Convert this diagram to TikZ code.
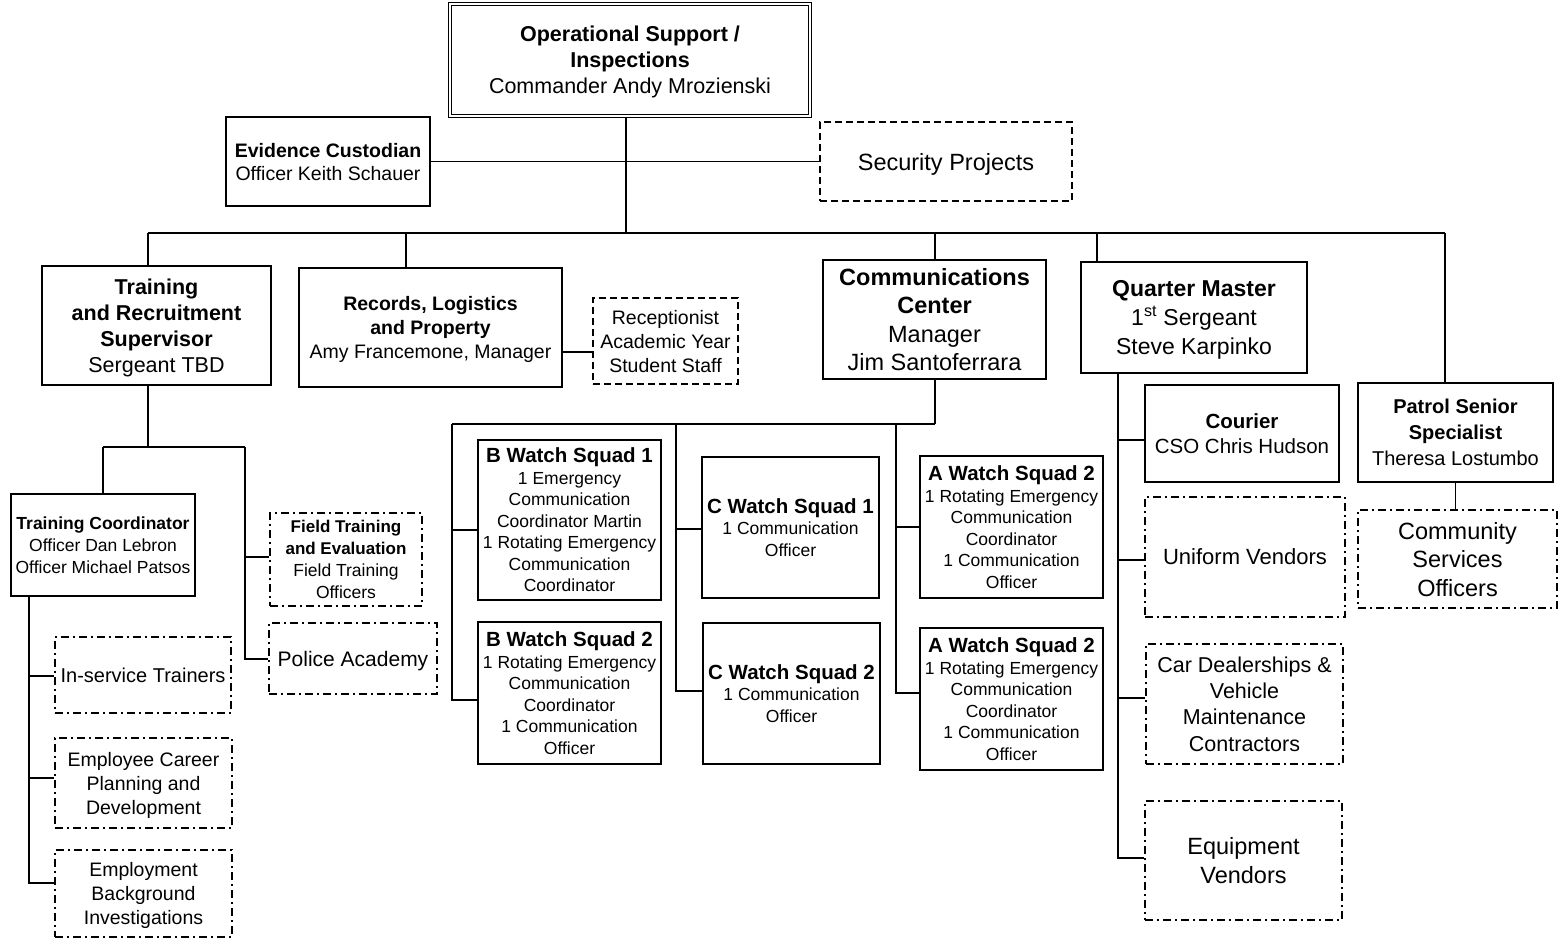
\documentclass[tikz,border=0pt]{standalone}
\usepackage{fontspec}
\setmainfont{Liberation Sans}
\newcommand\fsz[2]{\fontsize{#1}{#2}\selectfont}
\tikzset{
  box/.style={draw, line width=1.8pt, inner sep=0pt, align=center, anchor=center, text depth=0pt},
  topbox/.style={draw, double, double distance=2.2pt, line width=1.1pt, inner sep=0pt, align=center, text depth=0pt},
  dashbox/.style={box, line width=1.5pt, dash pattern=on 7pt off 4pt},
  ddbox/.style={box, line width=1.5pt, dash pattern=on 8pt off 4pt on 2pt off 4pt},
  conn/.style={line width=1.6pt},
}
\newcommand\sqh[1]{{\fsz{20.5}{23}\bfseries #1}}
\begin{document}
\begin{tikzpicture}[x=1pt,y=-1pt]
\useasboundingbox (0,0) rectangle (1565,941);
\fill[white] (0,0) rectangle (1565,941);

% ---- top level
\node[topbox, minimum width=360pt, minimum height=112pt, font=\fsz{21.5}{26}] (top) at (630,60)
  {\textbf{Operational Support /}\\\textbf{Inspections}\\Commander Andy Mrozienski};
\node[box, minimum width=204pt, minimum height=89pt, font=\fsz{19.5}{23}] (ev) at (328,161.5)
  {\textbf{Evidence Custodian}\\Officer Keith Schauer};
\node[dashbox, minimum width=252pt, minimum height=79pt, font=\fsz{23.5}{28}] (sec) at (946,161.5)
  {Security Projects};

% ---- second level
\node[box, minimum width=229pt, minimum height=119pt, font=\fsz{21.5}{26}] (train) at (156.5,325.5)
  {\textbf{Training}\\\textbf{and Recruitment}\\\textbf{Supervisor}\\Sergeant TBD};
\node[box, minimum width=263pt, minimum height=119pt, font=\fsz{19.5}{24}] (rec) at (430.5,327.5)
  {\textbf{Records, Logistics}\\\textbf{and Property}\\Amy Francemone, Manager};
\node[dashbox, minimum width=145pt, minimum height=86pt, font=\fsz{19.5}{24}] (recp) at (665.5,341)
  {Receptionist\\Academic Year\\Student Staff};
\node[box, minimum width=223pt, minimum height=119pt, font=\fsz{23.5}{28.5}] (comms) at (934.5,319.5)
  {\textbf{Communications}\\\textbf{Center}\\Manager\\Jim Santoferrara};
\node[box, minimum width=226pt, minimum height=111pt, font=\fsz{23}{29}] (qm) at (1194,317.5)
  {\textbf{Quarter Master}\\1\textsuperscript{st} Sergeant\\Steve Karpinko};
\node[box, minimum width=195pt, minimum height=99pt, font=\fsz{20}{26}] (pat) at (1455.5,432.5)
  {\textbf{Patrol Senior}\\\textbf{Specialist}\\Theresa Lostumbo};
\node[ddbox, minimum width=199pt, minimum height=98pt, font=\fsz{23.5}{28.5}] (cso) at (1457.5,559)
  {Community\\Services\\Officers};

% ---- training branch
\node[box, minimum width=184pt, minimum height=102pt, font=\fsz{17.5}{22}] (tc) at (103,545)
  {\textbf{Training Coordinator}\\Officer Dan Lebron\\Officer Michael Patsos};
\node[ddbox, minimum width=152pt, minimum height=93pt, font=\fsz{17.5}{22}] (ft) at (346,559.5)
  {{\fsz{17}{22}\bfseries Field Training}\\{\fsz{17}{22}\bfseries and Evaluation}\\Field Training\\Officers};
\node[ddbox, minimum width=168pt, minimum height=71pt, font=\fsz{21}{25}] (pa) at (353,658.5)
  {Police Academy};
\node[ddbox, minimum width=176pt, minimum height=76pt, font=\fsz{20}{24}] (ist) at (143,675)
  {In-service Trainers};
\node[ddbox, minimum width=177pt, minimum height=90pt, font=\fsz{19.5}{24}] (ec) at (143.5,783)
  {Employee Career\\Planning and\\Development};
\node[ddbox, minimum width=177pt, minimum height=87pt, font=\fsz{19.5}{24}] (eb) at (143.5,893.5)
  {Employment\\Background\\Investigations};

% ---- communications branch
\node[box, minimum width=183pt, minimum height=160pt, font=\fsz{17.5}{21.5}] (bw1) at (569.5,520)
  {\sqh{B Watch Squad 1}\\1 Emergency\\Communication\\Coordinator Martin\\1 Rotating Emergency\\Communication\\Coordinator};
\node[box, minimum width=183pt, minimum height=142pt, font=\fsz{17.5}{21.5}] (bw2) at (569.5,693)
  {\sqh{B Watch Squad 2}\\1 Rotating Emergency\\Communication\\Coordinator\\1 Communication\\Officer};
\node[box, minimum width=177pt, minimum height=141pt, font=\fsz{17.5}{21.5}] (cw1) at (790.5,527.5)
  {\sqh{C Watch Squad 1}\\1 Communication\\Officer};
\node[box, minimum width=177pt, minimum height=141pt, font=\fsz{17.5}{21.5}] (cw2) at (791.5,693.5)
  {\sqh{C Watch Squad 2}\\1 Communication\\Officer};
\node[box, minimum width=183pt, minimum height=142pt, font=\fsz{17.5}{21.5}] (aw1) at (1011.5,527)
  {\sqh{A Watch Squad 2}\\1 Rotating Emergency\\Communication\\Coordinator\\1 Communication\\Officer};
\node[box, minimum width=183pt, minimum height=142pt, font=\fsz{17.5}{21.5}] (aw2) at (1011.5,699)
  {\sqh{A Watch Squad 2}\\1 Rotating Emergency\\Communication\\Coordinator\\1 Communication\\Officer};

% ---- quarter master branch
\node[box, minimum width=194pt, minimum height=97pt, font=\fsz{20.5}{25}] (cour) at (1242,433.5)
  {\textbf{Courier}\\CSO Chris Hudson};
\node[ddbox, minimum width=200pt, minimum height=120pt, font=\fsz{22}{26}] (uv) at (1245,557)
  {Uniform Vendors};
\node[ddbox, minimum width=197pt, minimum height=120pt, font=\fsz{21.5}{26.3}] (car) at (1244.5,704)
  {Car Dealerships \&\\Vehicle\\Maintenance\\Contractors};
\node[ddbox, minimum width=197pt, minimum height=119pt, font=\fsz{23.5}{29}] (eq) at (1243.5,860.5)
  {Equipment\\Vendors};

% ---- connectors
\coordinate (jt) at (626,233);
\draw[conn] (top.south -| jt) -- (jt);
\draw[conn] (ev.east) -- (sec.west);
\coordinate (bl) at (148,233);
\coordinate (br) at (1445,233);
\draw[conn] (bl) -- (br);
\draw[conn] (bl) -- (bl |- train.north);
\coordinate (jr) at (406,233);
\draw[conn] (jr) -- (jr |- rec.north);
\coordinate (jc) at (935,233);
\draw[conn] (jc) -- (jc |- comms.north);
\coordinate (jq) at (1097,233);
\draw[conn] (jq) -- (jq |- qm.north);
\draw[conn] (br) -- (br |- pat.north);

\coordinate (rr) at (562,352);
\draw[conn] (rec.east |- rr) -- (recp.west |- rr);

% training
\coordinate (t1) at (148,447);
\coordinate (t2) at (103,447);
\coordinate (t3) at (245,447);
\coordinate (t4) at (245,659);
\coordinate (t5) at (245,557);
\draw[conn] (train.south -| t1) -- (t1);
\draw[conn] (t2) -- (t3);
\draw[conn] (t2) -- (tc.north -| t2);
\draw[conn] (t3) -- (t4) -- (pa.west |- t4);
\draw[conn] (t5) -- (ft.west |- t5);

\coordinate (c1) at (29,883);
\coordinate (c2) at (29,676);
\coordinate (c3) at (29,778);
\draw[conn] (tc.south -| c1) -- (c1) -- (eb.west |- c1);
\draw[conn] (c2) -- (ist.west |- c2);
\draw[conn] (c3) -- (ec.west |- c3);

% communications
\coordinate (m0) at (935,424);
\coordinate (mb) at (452,424);
\coordinate (mb1) at (452,530);
\coordinate (mb2) at (452,700);
\coordinate (mc) at (676,424);
\coordinate (mc1) at (676,529);
\coordinate (mc2) at (676,691);
\coordinate (ma) at (896,424);
\coordinate (ma1) at (896,527);
\coordinate (ma2) at (896,693);
\draw[conn] (comms.south -| m0) -- (m0);
\draw[conn] (mb) -- (m0);
\draw[conn] (mb) -- (mb2) -- (bw2.west |- mb2);
\draw[conn] (mb1) -- (bw1.west |- mb1);
\draw[conn] (mc) -- (mc2) -- (cw2.west |- mc2);
\draw[conn] (mc1) -- (cw1.west |- mc1);
\draw[conn] (ma) -- (ma2) -- (aw2.west |- ma2);
\draw[conn] (ma1) -- (aw1.west |- ma1);

% quarter master
\coordinate (q0) at (1118,858);
\coordinate (q1) at (1118,440);
\coordinate (q2) at (1118,560);
\coordinate (q3) at (1118,698);
\draw[conn] (qm.south -| q0) -- (q0) -- (eq.west |- q0);
\draw[conn] (q1) -- (cour.west |- q1);
\draw[conn] (q2) -- (uv.west |- q2);
\draw[conn] (q3) -- (car.west |- q3);

% patrol
\draw[conn] (pat.south) -- (pat.south |- cso.north);
\end{tikzpicture}
\end{document}
